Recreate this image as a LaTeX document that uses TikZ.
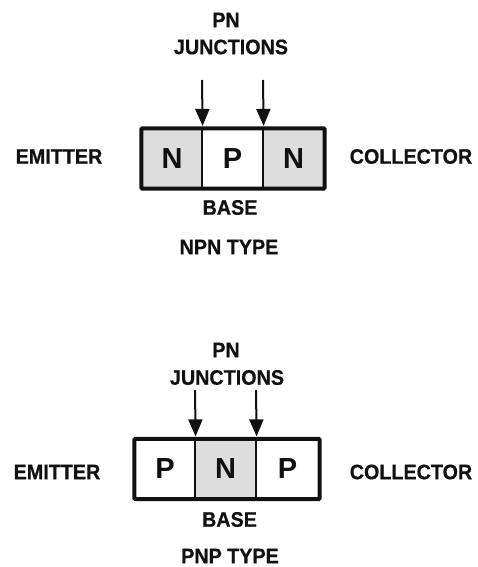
\documentclass[tikz,border=0pt]{standalone}
\usepackage{fontspec}
\setmainfont{Liberation Sans}
\newfontfamily\lblfont{Liberation Sans}[FakeStretch=0.94,BoldFeatures={FakeBold=0.6}]
\usetikzlibrary{arrows.meta}
\definecolor{cellgray}{HTML}{DDDDDD}
\definecolor{ink}{HTML}{111111}
\tikzset{
  lbl/.style={font=\lblfont\bfseries\fontsize{21}{21}\selectfont, text=ink, inner sep=0pt},
  cell/.style={draw=ink, line width=1.2pt, minimum height=59pt, inner sep=0pt,
    font=\bfseries\fontsize{29}{29}\selectfont, text=ink},
  gcell/.style={cell, fill=cellgray},
  wcell/.style={cell, fill=white},
  outer/.style={draw=ink, line width=4pt, rounded corners=1pt},
  jarrow/.style={draw=ink, line width=2pt, -{Triangle[length=17pt,width=14pt]}}
}
\begin{document}
\begin{tikzpicture}[x=1pt,y=-1pt]
\useasboundingbox (0,0) rectangle (478,567);
% ---------- NPN ----------
\node[lbl] (pn1) at (226,20) {PN};
\node[lbl] (jn1) at (231,47) {JUNCTIONS};
\node[gcell, minimum width=60pt] (a1) at (172,158.5) {N};
\node[wcell, minimum width=61pt] (a2) at (232.5,158.5) {P};
\node[gcell, minimum width=61pt] (a3) at (293.5,158.5) {N};
\draw[outer] (a1.north west) rectangle (a3.south east);
\coordinate (s1) at (202,80);
\coordinate (s2) at (263,80);
\draw[jarrow] (s1) -- ([yshift=2.5pt]a1.north east);
\draw[jarrow] (s2) -- ([yshift=2.5pt]a2.north east);
\node[lbl] (em1) at (59,156.5) {EMITTER};
\node[lbl] (co1) at (411,156.5) {COLLECTOR};
\node[lbl] (ba1) at (230,207.5) {BASE};
\node[lbl] (ty1) at (229,247) {NPN TYPE};
% ---------- PNP ----------
\node[lbl] (pn2) at (226,350) {PN};
\node[lbl] (jn2) at (227,377.5) {JUNCTIONS};
\node[wcell, minimum width=60pt] (b1) at (165,469) {P};
\node[gcell, minimum width=61pt] (b2) at (225.5,469) {N};
\node[wcell, minimum width=63pt] (b3) at (287.5,469) {P};
\draw[outer] (b1.north west) rectangle (b3.south east);
\coordinate (t1) at (195,390);
\coordinate (t2) at (256,390);
\draw[jarrow] (t1) -- ([yshift=2.5pt]b1.north east);
\draw[jarrow] (t2) -- ([yshift=2.5pt]b2.north east);
\node[lbl] (em2) at (57,472) {EMITTER};
\node[lbl] (co2) at (411,472) {COLLECTOR};
\node[lbl] (ba2) at (229.5,519.5) {BASE};
\node[lbl] (ty2) at (230,556) {PNP TYPE};
\end{tikzpicture}
\end{document}
